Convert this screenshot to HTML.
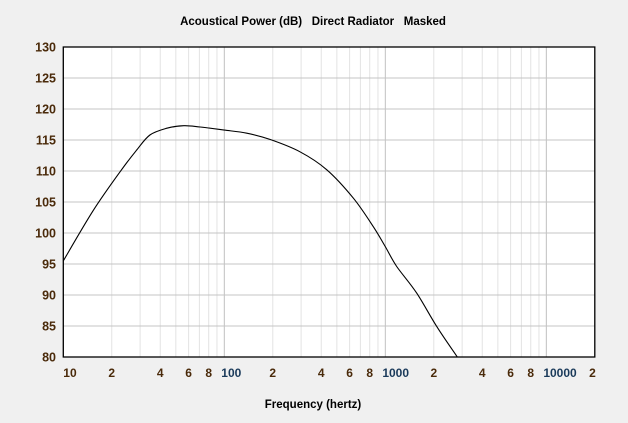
<!DOCTYPE html>
<html><head><meta charset="utf-8"><style>
html,body{margin:0;background:#f0f0f0;width:628px;height:423px;overflow:hidden}
svg{display:block}
svg text{font-family:"Liberation Sans",sans-serif;font-weight:bold;white-space:pre}
</style></head><body>
<svg id="chart" width="628" height="423" viewBox="0 0 628 423" xmlns="http://www.w3.org/2000/svg">
<rect x="0" y="0" width="628" height="423" fill="#f0f0f0"/>
<text x="313" y="25" font-size="11.5" text-anchor="middle" fill="#000" xml:space="preserve">Acoustical Power (dB)   Direct Radiator   Masked</text>
<text x="313" y="408" font-size="11.5" text-anchor="middle" fill="#000">Frequency (hertz)</text>
<g id="grid"></g><g id="curve"></g><g id="axes"></g>
</svg>
<script>
const freqs=[10,15.4,23,28.6,34.5,44,56,70.7,100,138,192,295,433,634,843,1000,1177,1567,2087,2800];
const dbValues=[95.5,103.7,110.2,113.4,115.8,116.9,117.3,117.1,116.6,116.1,115.1,113.1,110.2,105.6,101.0,97.8,94.6,90.3,84.9,80];
const yTicks=[80,85,90,95,100,105,110,115,120,125,130];
const xTickValues=[10,20,40,60,80,100,200,400,600,800,1000,2000,4000,6000,8000,10000,20000];
const xTickLabels=["10","2","4","6","8","100","2","4","6","8","1000","2","4","6","8","10000","2"];
const L=63.3,R=594.8,T=47,B=357,xMin=10,xMax=20000,yMin=80,yMax=130;
const NS="http://www.w3.org/2000/svg";
const dec=(R-L)/Math.log10(xMax/xMin);
function xs(f){return L+Math.log10(f/xMin)*dec;}
function ys(v){return B-(v-yMin)/(yMax-yMin)*(B-T);}
function mk(t,a,p){const e=document.createElementNS(NS,t);for(const k in a)e.setAttribute(k,a[k]);p.appendChild(e);return e;}
const svg=document.getElementById('chart'),grid=document.getElementById('grid'),curve=document.getElementById('curve'),axes=document.getElementById('axes');
const bg=mk('rect',{x:L,y:T,width:R-L,height:B-T,fill:'#fff'},grid);


svg.insertBefore(bg,grid);
for(let d=10;d<20000;d*=10){for(let m=1;m<10;m++){const f=d*m;if(f>xMax)break;const x=xs(f);
 const ln=mk('line',{x1:x,x2:x,y1:T,y2:B,stroke:m==1?'#c0c0c0':'#e3e3e3','stroke-width':1},grid);
 
 }}
yTicks.forEach(v=>{const y=ys(v);
 const ln=mk('line',{x1:L,x2:R,y1:y,y2:y,stroke:'#c4c4c4','stroke-width':1},grid);
 
 
 const t=mk('text',{x:56,y:y+4.5,'font-size':12.5,'text-anchor':'end',fill:'#4a2a0a'},axes);t.textContent=v;
 
 });
xTickValues.forEach((f,i)=>{let x=xs(f);const lab=xTickLabels[i];let anchor='middle';
 if(f==10){anchor='start';}
 if(f==20000){anchor='end';x=x+1;}
 if(lab.length>2&&f!=10){anchor='start';x=x-3;}
 const t=mk('text',{x:x,y:377,'font-size':12,'text-anchor':anchor,fill:(f==100||f==1000||f==10000)?'#1a3a5a':'#4a2a0a'},axes);t.textContent=lab;
 
 });
const cp=mk('clipPath',{id:'clip'},svg);mk('rect',{x:L,y:T,width:R-L,height:B-T},cp);
const P=freqs.map((f,i)=>[xs(f),ys(dbValues[i])]);
let d='M'+P[0][0].toFixed(1)+','+P[0][1].toFixed(1);
for(let i=0;i<P.length-1;i++){
 const p0=P[Math.max(i-1,0)],p1=P[i],p2=P[i+1],p3=P[Math.min(i+2,P.length-1)];
 const c1=[p1[0]+(p2[0]-p0[0])/6,p1[1]+(p2[1]-p0[1])/6];
 const c2=[p2[0]-(p3[0]-p1[0])/6,p2[1]-(p3[1]-p1[1])/6];
 d+=' C'+c1[0].toFixed(1)+','+c1[1].toFixed(1)+' '+c2[0].toFixed(1)+','+c2[1].toFixed(1)+' '+p2[0].toFixed(1)+','+p2[1].toFixed(1);
}
const pl=mk('path',{d:d,fill:'none',stroke:'#000','stroke-width':1.1,'clip-path':'url(#clip)'},curve);


const fr=mk('rect',{x:L,y:T,width:R-L,height:B-T,fill:'none',stroke:'#000','stroke-width':1.3},axes);


</script>
</body></html>
